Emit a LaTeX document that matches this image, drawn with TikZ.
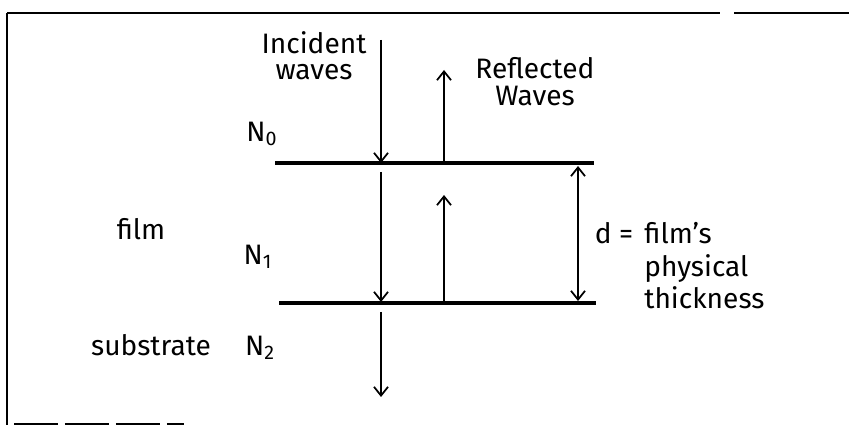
\documentclass[tikz,border=0pt]{standalone}
\usepackage{fontspec}
\setsansfont{Fira Sans}
\usepackage{tikz}
\usetikzlibrary{arrows.meta}

\begin{document}
\begin{tikzpicture}[x=0.02cm,y=-0.02cm,
  lbl/.style={font=\sffamily\fontsize{16}{15}\selectfont,inner sep=0pt,align=center},
  border/.style={line width=1.4pt},
  iface/.style={line width=1.9pt},
  arr/.style={-{Straight Barb[length=5pt,width=8pt,line width=1pt]},line width=1pt},
  dbl/.style={{Straight Barb[length=5pt,width=8pt,line width=1pt]}-{Straight Barb[length=5pt,width=8pt,line width=1pt]},line width=1pt}
]
\useasboundingbox (0,0) rectangle (849,425);

% frame
\draw[border] (7,13)--(720,13);
\draw[border] (734,13)--(849,13);
\draw[border] (7,13)--(7,425);
\draw[line width=1pt,dash pattern=on 25pt off 4pt] (14,424)--(184,424);

% interfaces
\coordinate (top0) at (275,163);
\coordinate (top1) at (594,163);
\coordinate (bot0) at (279,303);
\coordinate (bot1) at (596,303);
\draw[iface] (top0)--(top1);
\draw[iface] (bot0)--(bot1);

% ray ends
\coordinate (i0) at (381,40);
\coordinate (i1) at (381,163);
\coordinate (t0) at (381,172);
\coordinate (t1) at (381,302);
\coordinate (s0) at (381,312);
\coordinate (s1) at (381,397);
\coordinate (r0) at (444,163);
\coordinate (r1) at (444,70);
\coordinate (u0) at (444,303);
\coordinate (u1) at (444,195);
\coordinate (d0) at (578,166);
\coordinate (d1) at (578,301);

\draw[arr] (i0)--(i1);
\draw[arr] (t0)--(t1);
\draw[arr] (s0)--(s1);
\draw[arr] (r0)--(r1);
\draw[arr] (u0)--(u1);
\draw[dbl] (d0)--(d1);

% labels
\node[lbl] (inc)   at (314,56)  {Incident\\waves};
\node[lbl,font=\sffamily\fontsize{16}{15.5}\selectfont] (refl) at (535,82) {Reflected\\Waves};
\node[lbl] (n0)    at (262,134) {N\textsubscript{0}};
\node[lbl] (film)  at (141,229) {film};
\node[lbl] (n1)    at (258,257) {N\textsubscript{1}};
\node[lbl] (subs)  at (151,345) {substrate};
\node[lbl] (n2)    at (260,348) {N\textsubscript{2}};
\node[lbl,anchor=north west,align=left,font=\sffamily\fontsize{16}{18.5}\selectfont] (thick) at (644,222) {film's\\physical\\thickness};
\node[lbl,anchor=north east] (dd) at ([xshift=-6pt]thick.north west) {d =};
\end{tikzpicture}
\end{document}
